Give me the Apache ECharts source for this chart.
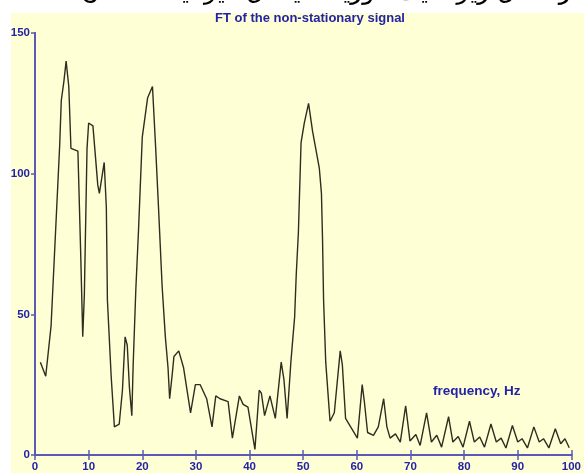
<!DOCTYPE html>
<html>
<head>
<meta charset="utf-8">
<script src="https://cdn.jsdelivr.net/npm/echarts@6/dist/echarts.min.js"></script>
<style>
  html, body { margin: 0; padding: 0; background: #ffffff; }
  #chart { width: 584px; height: 473px; }
</style>
</head>
<body>
<div id="chart"></div>
<script>
// Magnitude spectrum of the non-stationary signal (frequency in Hz, amplitude)
const freq = [
  1.0, 2.0, 3.0, 4.0, 4.6, 4.9, 5.4, 5.8, 6.3, 6.7, 8.0, 8.5, 8.9, 9.2, 9.7, 10.0,
  10.8, 11.7, 12.0, 12.9, 13.3, 13.5, 14.2, 14.8, 15.7, 16.3, 16.8, 17.2, 17.6, 18.05,
  18.3, 18.8, 19.3, 20.0, 21.0, 21.9, 22.5, 23.0, 23.7, 24.3, 24.8, 25.1, 25.6, 25.9,
  26.8, 27.7, 29.0, 29.9, 30.8, 32.0, 33.0, 33.7, 34.5, 36.0, 36.8, 38.1, 38.8, 39.7,
  41.0, 41.8, 42.2, 42.8, 43.8, 44.8, 45.9, 46.4, 47.0, 47.7, 48.4, 48.7, 49.1, 49.6,
  50.2, 51.0, 51.75, 53.0, 53.4, 53.6, 53.8, 54.2, 55.0, 55.8, 56.9, 57.3, 57.9, 60.1,
  61.0, 61.4, 62.0, 63.1, 64.0, 65.0, 65.6, 66.2, 67.2, 68.1, 69.1, 69.9, 71.0, 71.8,
  73.0, 73.9, 74.9, 75.8, 77.1, 77.9, 78.9, 79.8, 81.0, 81.9, 82.9, 83.8, 85.0, 86.0,
  86.9, 87.8, 89.0, 90.0, 90.8, 91.8, 93.0, 94.0, 94.8, 95.8, 97.0, 98.0, 98.8, 99.6
];
const amp = [
  33, 28, 46, 86, 110, 126, 133, 140, 131, 109, 108, 73, 42, 57, 109, 118,
  117, 96, 93, 104, 88, 55, 28, 10, 11, 23, 42, 39, 24, 14,
  32, 59, 80, 113, 127, 131, 109, 89, 60, 42, 31, 20, 29, 35,
  37, 31, 15, 25, 25, 20, 10, 21, 20, 19, 6, 21, 18, 17,
  2, 23, 22, 14, 21, 13, 33, 27, 13, 33, 49, 64, 79, 111,
  118, 125, 115, 102, 93, 77, 55, 33, 12, 15, 37, 32, 13, 6,
  25, 19, 8, 7, 10, 20, 10, 6, 7.5, 4.6, 17.5, 5, 7.3, 3.4,
  15, 4.6, 7, 2.8, 13.6, 4.6, 6.6, 2.8, 12, 4.6, 6.4, 2.8, 11, 4.6,
  6, 2.5, 10.5, 4.6, 5.8, 2.5, 10, 4.6, 5.8, 2.5, 9.3, 4, 5.8, 2.6
];

const xTicks = { min: 0, max: 100, step: 10 };
const yTicks = { min: 0, max: 150, step: 50 };

const titleText = 'FT of the non-stationary signal';
const axisNote = 'frequency, Hz';
const captionText = 'در شکل زیر طیف فوریه سیگنال غیر ایستا نشان داده شده است که در آن پیک‌ها دیده می‌شوند';

const axisBlue = '#5a5ab4';
const labelBlue = '#2323a6';
const paper = '#ffffd6';

const labelFont = { color: labelBlue, fontWeight: 'bold', fontSize: 11.5, fontFamily: 'Liberation Sans, Arial, sans-serif' };

const chart = echarts.init(document.getElementById('chart'), null, { renderer: 'canvas' });

chart.setOption({
  animation: false,
  backgroundColor: '#ffffff',
  title: {
    text: titleText,
    left: 305, top: 7, textAlign: 'center',
    textStyle: { color: labelBlue, fontSize: 13, fontWeight: 'bold', fontFamily: 'Liberation Sans, Arial, sans-serif' }
  },
  grid: { left: 35, right: 8, top: 33, bottom: 15, containLabel: false },
  xAxis: [
    {
      type: 'value', position: 'bottom', min: xTicks.min, max: xTicks.max, interval: xTicks.step,
      axisLine: { lineStyle: { color: axisBlue, width: 2 } },
      axisTick: { inside: true, length: 5, lineStyle: { color: axisBlue, width: 1.5 } },
      axisLabel: Object.assign({ margin: 6 }, labelFont),
      splitLine: { show: false }
    },
    {
      type: 'value', position: 'top', min: xTicks.min, max: xTicks.max, interval: xTicks.step,
      axisLine: { lineStyle: { color: axisBlue, width: 2 } },
      axisTick: { inside: true, length: 5, lineStyle: { color: axisBlue, width: 1.5 } },
      axisLabel: { show: false },
      splitLine: { show: false }
    }
  ],
  yAxis: [
    {
      type: 'value', position: 'left', min: yTicks.min, max: yTicks.max, interval: yTicks.step,
      axisLine: { show: true, lineStyle: { color: axisBlue, width: 2 } },
      axisTick: { show: true, inside: false, length: 4, lineStyle: { color: axisBlue, width: 1.5 } },
      axisLabel: Object.assign({ margin: 5 }, labelFont),
      splitLine: { show: false }
    },
    {
      type: 'value', position: 'right', min: yTicks.min, max: yTicks.max, interval: yTicks.step,
      axisLine: { show: true, lineStyle: { color: axisBlue, width: 2 } },
      axisTick: { show: false },
      axisLabel: { show: false },
      splitLine: { show: false }
    }
  ],
  graphic: [
    {
      type: 'rect', z: -10, silent: true,
      shape: { x: 11, y: 13, width: 573, height: 460 },
      style: { fill: paper }
    },
    {
      type: 'text', z: 10, silent: true,
      style: {
        x: 433, y: 384, text: axisNote,
        fill: labelBlue, font: 'bold 13.5px "Liberation Sans", Arial, sans-serif'
      }
    },
    {
      type: 'rect', z: 20, silent: true,
      shape: { x: 0, y: 0, width: 584, height: 13 },
      style: { fill: '#ffffff' }
    },
    {
      type: 'text', z: 21, silent: true,
      style: {
        x: 582, y: -20, text: captionText, align: 'right', verticalAlign: 'top',
        fill: '#000000', font: '25px "DejaVu Sans", sans-serif'
      }
    }
  ],
  series: [
    {
      type: 'line',
      xAxisIndex: 0, yAxisIndex: 0,
      data: freq.map((f, i) => [f, amp[i]]),
      showSymbol: false,
      smooth: false,
      lineStyle: { color: '#2e2e20', width: 1.4 }
    }
  ]
});
</script>
</body>
</html>
